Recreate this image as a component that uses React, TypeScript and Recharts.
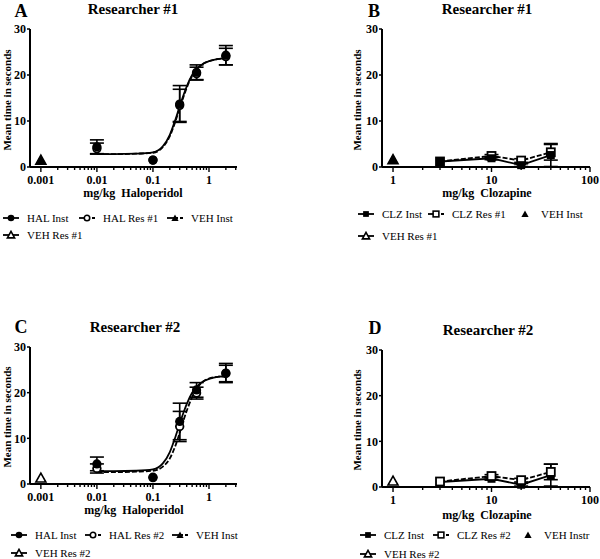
import React from 'react';
import { ComposedChart, Line, Scatter, XAxis, YAxis, ErrorBar } from 'recharts';

const FONT = '"Liberation Serif", "Times New Roman", Times, serif';

// haloperidol doses (mg/kg) and group means / SEM
const halDoses = [0.01, 0.1, 0.3, 0.6, 2];
const halInst = [4.4, 1.5, 13.7, 20.6, 24.3];
const halInstErr = [1.5, 0, 4.0, 1.6, 2.1];
const halRes1 = [4.0, 1.5, 13.4, 20.3, 24.0];
const halRes1Err = [1.2, 0, 3.5, 1.4, 1.8];
const halRes2 = [3.4, 1.4, 12.6, 19.9, 24.2];
const halRes2Err = [1.0, 0, 3.3, 1.3, 1.8];

// vehicle groups sit at the left end of each axis
const vehHalDose = [0.001];
const vehHalInstA = [1.5];
const vehHalRes1 = [1.5];
const vehHalInstC = [1.3];
const vehHalRes2 = [1.3];

// fitted dose-response curves
const fitDoses = [0.01, 0.02, 0.05, 0.1, 0.15, 0.2, 0.25, 0.3, 0.35, 0.4, 0.5, 0.6, 0.8, 1, 1.5, 2];
const fitInst = [2.8, 2.8, 2.9, 3.2, 4.5, 7.0, 10.2, 13.2, 15.6, 17.5, 20.0, 21.3, 22.5, 23.0, 23.5, 23.6];
const fitRes1 = [2.8, 2.8, 2.9, 3.1, 4.3, 6.7, 9.8, 12.8, 15.2, 17.2, 19.8, 21.2, 22.5, 23.0, 23.5, 23.7];
const fitRes2 = [2.6, 2.6, 2.7, 2.9, 3.8, 5.6, 8.3, 11.2, 13.9, 16.0, 19.0, 20.8, 22.5, 23.1, 23.5, 23.6];

// clozapine doses (mg/kg)
const clzDoses = [3, 10, 20, 40];
const clzInstB = [1.2, 1.9, 0.4, 2.6];
const clzInstBErr = [0, 0.3, 0.3, 2.5];
const clzRes1 = [1.2, 2.4, 1.4, 3.2];
const clzRes1Err = [0, 0.3, 0.4, 1.7];
const clzInstD = [1.1, 1.8, 0.5, 2.6];
const clzInstDErr = [0, 0.3, 0.3, 2.4];
const clzRes2 = [1.2, 2.4, 1.5, 3.3];
const clzRes2Err = [0, 0.3, 0.4, 1.7];

const vehClzDose = [1];
const vehClzInstB = [1.7];
const vehClzRes1 = [1.6];
const vehClzInstD = [1.3];
const vehClzRes2 = [1.3];

const yTicks = [0, 10, 20, 30];
const halMajors = [0.001, 0.01, 0.1, 1];
const clzMajors = [1, 10, 100];

const minorTicks = (decades: number[], max: number) => {
  const out: number[] = [];
  decades.forEach((d) => {
    for (let k = 1; k < 10; k++) {
      const v = +(d * k).toPrecision(6);
      if (v <= max) out.push(v);
    }
  });
  return out;
};
const halTicks = minorTicks(halMajors, 3.1);
const clzTicks = [...minorTicks([1, 10], 100), 100];

const pts = (xs: number[], ys: number[], errs?: number[]) =>
  xs.map((x, i) => ({ x, y: ys[i], err: errs ? errs[i] : 0 }));

const Mark = ({ cx, cy, kind, open, s = 1 }: any) => {
  if (cx == null || cy == null || isNaN(cx) || isNaN(cy)) return null;
  const fill = open ? '#fff' : '#000';
  const sw = open ? 1.8 * Math.min(1, s + 0.15) : 0;
  if (kind === 'circle') return <circle cx={cx} cy={cy} r={(open ? 3.8 : 4.6) * s} fill={fill} stroke="#000" strokeWidth={sw} />;
  if (kind === 'square') {
    const h = 4 * s;
    return <rect x={cx - h} y={cy - h} width={2 * h} height={2 * h} fill={fill} stroke="#000" strokeWidth={sw} />;
  }
  const t = 5 * s;
  return (
    <polygon
      points={`${cx},${cy - t} ${cx - t},${cy + t * 0.8} ${cx + t},${cy + t * 0.8}`}
      fill={fill}
      stroke="#000"
      strokeWidth={open ? 1.6 : 0}
    />
  );
};

const LogTick = (props: any) => {
  const { x, y, payload, majors } = props;
  const v = payload.value;
  const major = majors.some((m: number) => Math.abs(m - v) < 1e-9);
  return (
    <g>
      <line x1={x} x2={x} y1={y} y2={y + (major ? 5 : 3)} stroke="#000" strokeWidth={1.4} />
      {major && (
        <text x={x} y={y + 17} textAnchor="middle" fontFamily={FONT} fontWeight="bold" fontSize={12} fill="#000">
          {String(v)}
        </text>
      )}
    </g>
  );
};

type Series =
  | { kind: 'fit'; data: { x: number; y: number }[]; dashed?: boolean }
  | { kind: 'points'; data: { x: number; y: number; err: number }[]; shape: string; open?: boolean; line?: boolean; dashed?: boolean };

const Panel = ({ left, top, height, margin, domain, ticks, majors, series }: any) => (
  <div style={{ position: 'absolute', left, top }}>
    <ComposedChart width={300} height={height} margin={margin}>
      <XAxis
        dataKey="x"
        type="number"
        scale="log"
        domain={domain}
        allowDataOverflow
        ticks={ticks}
        interval={0}
        tick={<LogTick majors={majors} />}
        tickLine={false}
        tickSize={0}
        tickMargin={0}
        height={25}
        axisLine={{ stroke: '#000', strokeWidth: 2 }}
      />
      <YAxis
        type="number"
        domain={[0, 30]}
        ticks={yTicks}
        interval={0}
        width={30}
        tickSize={3}
        tickMargin={1}
        axisLine={{ stroke: '#000', strokeWidth: 2 }}
        tickLine={{ stroke: '#000', strokeWidth: 1.5 }}
        tick={{ fill: '#000', fontFamily: FONT, fontWeight: 'bold', fontSize: 12 }}
      />
      {series.map((s: Series, i: number) => {
        if (s.kind === 'fit') {
          return (
            <Line
              key={i}
              data={s.data}
              dataKey="y"
              type="monotone"
              stroke="#000"
              strokeWidth={1.8}
              strokeDasharray={s.dashed ? '5 2' : undefined}
              dot={false}
              activeDot={false}
              isAnimationActive={false}
            />
          );
        }
        if (s.line) {
          return (
            <Line
              key={i}
              data={s.data}
              dataKey="y"
              type="linear"
              stroke="#000"
              strokeWidth={1.8}
              strokeDasharray={s.dashed ? '5 2' : undefined}
              dot={(p: any) => <Mark key={`d${i}-${p.index}`} cx={p.cx} cy={p.cy} kind={s.shape} open={s.open} />}
              activeDot={false}
              isAnimationActive={false}
            >
              <ErrorBar dataKey="err" direction="y" width={7} stroke="#000" strokeWidth={1.6} />
            </Line>
          );
        }
        return (
          <Scatter
            key={i}
            data={s.data}
            dataKey="y"
            shape={(p: any) => <Mark cx={p.cx} cy={p.cy} kind={s.shape} open={s.open} />}
            isAnimationActive={false}
          >
            <ErrorBar dataKey="err" direction="y" width={7} stroke="#000" strokeWidth={1.6} />
          </Scatter>
        );
      })}
    </ComposedChart>
  </div>
);

const Txt = ({ x, y, size, bold = true, rotate = false, children }: any) => (
  <div
    style={{
      position: 'absolute',
      left: x,
      top: y,
      transform: `translate(-50%, -50%)${rotate ? ' rotate(-90deg)' : ''}`,
      fontFamily: FONT,
      fontWeight: bold ? 'bold' : 'normal',
      fontSize: size,
      whiteSpace: 'pre',
      lineHeight: 1,
      color: '#000',
    }}
  >
    {children}
  </div>
);

const LegendIcon = ({ shape, open, dashed, noLine }: any) => (
  <svg width={18} height={10} style={{ display: 'block' }}>
    {!noLine && <line x1={1} x2={9} y1={5} y2={5} stroke="#000" strokeWidth={1.8} />}
    {!noLine && <line x1={9} x2={17} y1={5} y2={5} stroke="#000" strokeWidth={1.8} strokeDasharray={dashed ? '3 2' : undefined} />}
    <Mark cx={9} cy={5} kind={shape} open={open} s={0.72} />
  </svg>
);

const LegendItem = ({ x, y, label, ...icon }: any) => (
  <div style={{ position: 'absolute', left: x, top: y - 6, display: 'flex', alignItems: 'center', height: 12 }}>
    <LegendIcon {...icon} />
    <span style={{ fontFamily: FONT, fontSize: 11, marginLeft: 7, whiteSpace: 'nowrap', lineHeight: 1 }}>{label}</span>
  </div>
);

const halDomain = [0.00064, 3.16];
const clzDomain = [0.773, 100];

export default function App() {
  const seriesA: Series[] = [
    { kind: 'fit', data: pts(fitDoses, fitRes1), dashed: true },
    { kind: 'fit', data: pts(fitDoses, fitInst) },
    { kind: 'points', data: pts(halDoses, halRes1, halRes1Err), shape: 'circle', open: true },
    { kind: 'points', data: pts(halDoses, halInst, halInstErr), shape: 'circle' },
    { kind: 'points', data: pts(vehHalDose, vehHalRes1), shape: 'triangle', open: true },
    { kind: 'points', data: pts(vehHalDose, vehHalInstA), shape: 'triangle' },
  ];
  const seriesC: Series[] = [
    { kind: 'fit', data: pts(fitDoses, fitRes2), dashed: true },
    { kind: 'fit', data: pts(fitDoses, fitInst) },
    { kind: 'points', data: pts(halDoses, halRes2, halRes2Err), shape: 'circle', open: true },
    { kind: 'points', data: pts(halDoses, halInst, halInstErr), shape: 'circle' },
    { kind: 'points', data: pts(vehHalDose, vehHalInstC), shape: 'triangle' },
    { kind: 'points', data: pts(vehHalDose, vehHalRes2), shape: 'triangle', open: true },
  ];
  const seriesB: Series[] = [
    { kind: 'points', data: pts(clzDoses, clzRes1, clzRes1Err), shape: 'square', open: true, line: true, dashed: true },
    { kind: 'points', data: pts(clzDoses, clzInstB, clzInstBErr), shape: 'square', line: true },
    { kind: 'points', data: pts(vehClzDose, vehClzRes1), shape: 'triangle', open: true },
    { kind: 'points', data: pts(vehClzDose, vehClzInstB), shape: 'triangle' },
  ];
  const seriesD: Series[] = [
    { kind: 'points', data: pts(clzDoses, clzInstD, clzInstDErr), shape: 'square', line: true },
    { kind: 'points', data: pts(clzDoses, clzRes2, clzRes2Err), shape: 'square', open: true, line: true, dashed: true },
    { kind: 'points', data: pts(vehClzDose, vehClzInstD), shape: 'triangle' },
    { kind: 'points', data: pts(vehClzDose, vehClzRes2), shape: 'triangle', open: true },
  ];

  const halMargin = { top: 10, right: 63, left: 0, bottom: 8 };
  const clzMargin = { top: 10, right: 10, left: 52, bottom: 8 };

  return (
    <div style={{ position: 'absolute', left: 0, top: 0, width: 600, height: 559, background: '#fff', overflow: 'hidden' }}>
      {/* A */}
      <Panel left={0} top={19} height={181} margin={halMargin} domain={halDomain} ticks={halTicks} majors={halMajors} series={seriesA} />
      <Txt x={21} y={11} size={18}>A</Txt>
      <Txt x={133} y={9} size={15}>Researcher #1</Txt>
      <Txt x={7} y={100} size={11} rotate>Mean time in seconds</Txt>
      <Txt x={133} y={193} size={12}>{'mg/kg  Haloperidol'}</Txt>
      <LegendItem x={2} y={218} label="HAL Inst" shape="circle" />
      <LegendItem x={78} y={218} label="HAL Res #1" shape="circle" open dashed />
      <LegendItem x={166} y={218} label="VEH Inst" shape="triangle" dashed />
      <LegendItem x={2} y={235} label="VEH Res #1" shape="triangle" open />

      {/* B */}
      <Panel left={300} top={19} height={181} margin={clzMargin} domain={clzDomain} ticks={clzTicks} majors={clzMajors} series={seriesB} />
      <Txt x={374} y={11} size={18}>B</Txt>
      <Txt x={487} y={9} size={15}>Researcher #1</Txt>
      <Txt x={357} y={100} size={11} rotate>Mean time in seconds</Txt>
      <Txt x={487} y={193} size={12}>{'mg/kg  Clozapine'}</Txt>
      <LegendItem x={357} y={214} label="CLZ Inst" shape="square" />
      <LegendItem x={427} y={214} label="CLZ Res #1" shape="square" open dashed />
      <LegendItem x={516} y={214} label="VEH Inst" shape="triangle" noLine />
      <LegendItem x={357} y={236} label="VEH Res #1" shape="triangle" open />

      {/* C */}
      <Panel left={0} top={337} height={180} margin={halMargin} domain={halDomain} ticks={halTicks} majors={halMajors} series={seriesC} />
      <Txt x={21} y={327} size={18}>C</Txt>
      <Txt x={135} y={327} size={15}>Researcher #2</Txt>
      <Txt x={7} y={417} size={11} rotate>Mean time in seconds</Txt>
      <Txt x={134} y={510} size={12}>{'mg/kg  Haloperidol'}</Txt>
      <LegendItem x={10} y={535} label="HAL Inst" shape="circle" />
      <LegendItem x={84} y={535} label="HAL Res #2" shape="circle" open dashed />
      <LegendItem x={171} y={535} label="VEH Inst" shape="triangle" dashed />
      <LegendItem x={10} y={553} label="VEH Res #2" shape="triangle" open />

      {/* D */}
      <Panel left={300} top={340} height={180} margin={clzMargin} domain={clzDomain} ticks={clzTicks} majors={clzMajors} series={seriesD} />
      <Txt x={375} y={328} size={18}>D</Txt>
      <Txt x={488} y={330} size={15}>Researcher #2</Txt>
      <Txt x={357} y={420} size={11} rotate>Mean time in seconds</Txt>
      <Txt x={487} y={515} size={12}>{'mg/kg  Clozapine'}</Txt>
      <LegendItem x={359} y={535} label="CLZ Inst" shape="square" />
      <LegendItem x={432} y={535} label="CLZ Res #2" shape="square" open dashed />
      <LegendItem x={519} y={535} label="VEH Instr" shape="triangle" noLine />
      <LegendItem x={359} y={554} label="VEH Res #2" shape="triangle" open />
    </div>
  );
}
